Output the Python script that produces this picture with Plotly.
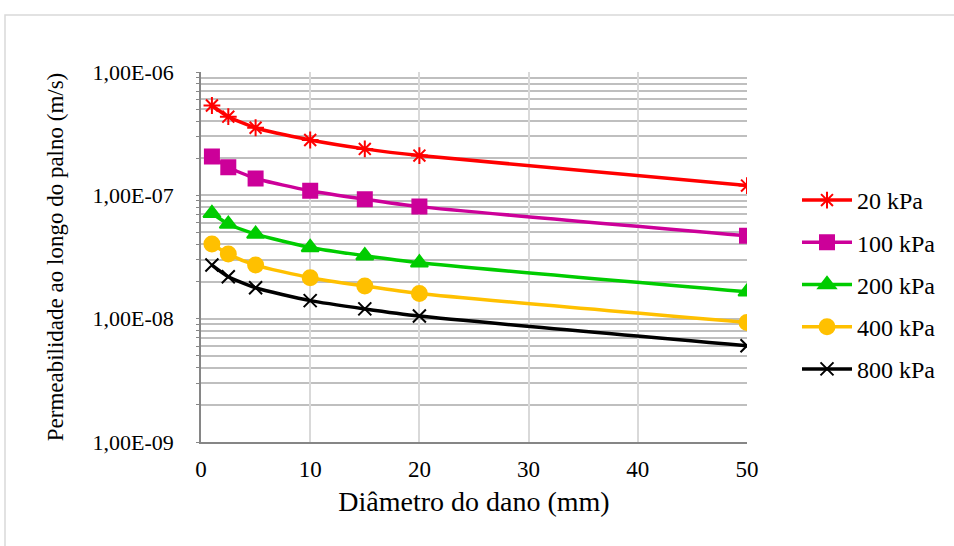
import plotly.graph_objects as go

diametro = [1, 2.5, 5, 10, 15, 20, 50]
k20 = [5.35e-7, 4.34e-7, 3.53e-7, 2.81e-7, 2.38e-7, 2.10e-7, 1.20e-7]
k100 = [2.06e-7, 1.69e-7, 1.37e-7, 1.09e-7, 9.3e-8, 8.1e-8, 4.7e-8]
k200 = [7.15e-8, 5.85e-8, 4.85e-8, 3.78e-8, 3.24e-8, 2.84e-8, 1.65e-8]
k400 = [4.03e-8, 3.34e-8, 2.72e-8, 2.15e-8, 1.84e-8, 1.60e-8, 9.3e-9]
k800 = [2.72e-8, 2.19e-8, 1.78e-8, 1.40e-8, 1.20e-8, 1.05e-8, 6.03e-9]

series_names = ["20 kPa", "100 kPa", "200 kPa", "400 kPa", "800 kPa"]
series_vals = [k20, k100, k200, k400, k800]
colors = ["#FF0000", "#CC0099", "#00CC00", "#FFC000", "#000000"]
symbols = ["asterisk-open", "square", "triangle-up", "circle", "x-thin-open"]
sizes = [14, 14, 15, 15, 13]

ytick_vals = [1e-9, 1e-8, 1e-7, 1e-6]
ytick_text = ["1,00E-09", "1,00E-08", "1,00E-07", "1,00E-06"]
minor_vals = [m * 10.0 ** e for e in (-9, -8, -7) for m in range(2, 10)]

font_family = "Liberation Serif, Times New Roman, serif"

fig = go.Figure()
for i, (name, vals) in enumerate(zip(series_names, series_vals)):
    fig.add_trace(go.Scatter(
        x=diametro, y=vals, name=name, mode="lines+markers",
        line=dict(color=colors[i], width=3.5, shape="spline", smoothing=0.6),
        marker=dict(symbol=symbols[i], size=sizes[i], color=colors[i],
                    line=dict(color=colors[i], width=2)),
        legendgroup=name,
    ))

L, T, R, B = 201, 72, 747, 442
W, H = 954, 546
pw, ph = R - L, B - T

fig.update_layout(
    width=W, height=H,
    margin=dict(l=L, r=W - R, t=T, b=H - B),
    paper_bgcolor="white", plot_bgcolor="white",
    font=dict(family=font_family, size=22, color="#000000"),
    showlegend=True,
    legend=dict(x=(797 - L) / pw, y=(B - 178) / ph, xanchor="left", yanchor="top",
                font=dict(size=24), tracegroupgap=8, itemwidth=50,
                bgcolor="rgba(0,0,0,0)"),
    shapes=[dict(type="rect", xref="paper", yref="paper",
                 x0=(5 - L) / pw, x1=(965 - L) / pw,
                 y0=(B - 560) / ph, y1=(B - 15) / ph,
                 line=dict(color="#D9D9D9", width=1.5), layer="below")],
)

fig.update_xaxes(
    range=[0, 50], tickvals=[0, 10, 20, 30, 40, 50],
    showgrid=True, gridcolor="#D9D9D9", gridwidth=1.5,
    showline=True, linecolor="#868686", linewidth=1.5,
    zeroline=False, ticks="", tickfont=dict(size=23), ticklabelstandoff=6,
    title=dict(text="Diâmetro do dano (mm)", font=dict(size=28), standoff=10),
)
fig.update_yaxes(
    type="log", range=[-9, -6],
    tickvals=ytick_vals, ticktext=ytick_text,
    showgrid=True, gridcolor="#BFBFBF", gridwidth=1.5,
    minor=dict(tickvals=minor_vals, showgrid=True, gridcolor="#BFBFBF", gridwidth=1.5,
               ticks="outside", ticklen=3, tickcolor="#868686"),
    showline=True, linecolor="#868686", linewidth=1.5,
    ticks="outside", ticklen=3, tickcolor="#868686",
    zeroline=False, tickfont=dict(size=22), ticklabelstandoff=18,
    title=dict(text="Permeabilidade ao longo do palno (m/s)", font=dict(size=23), standoff=23),
)

fig.write_html("out.html", config={"displayModeBar": False},
               post_script="document.body.style.margin='0';")
